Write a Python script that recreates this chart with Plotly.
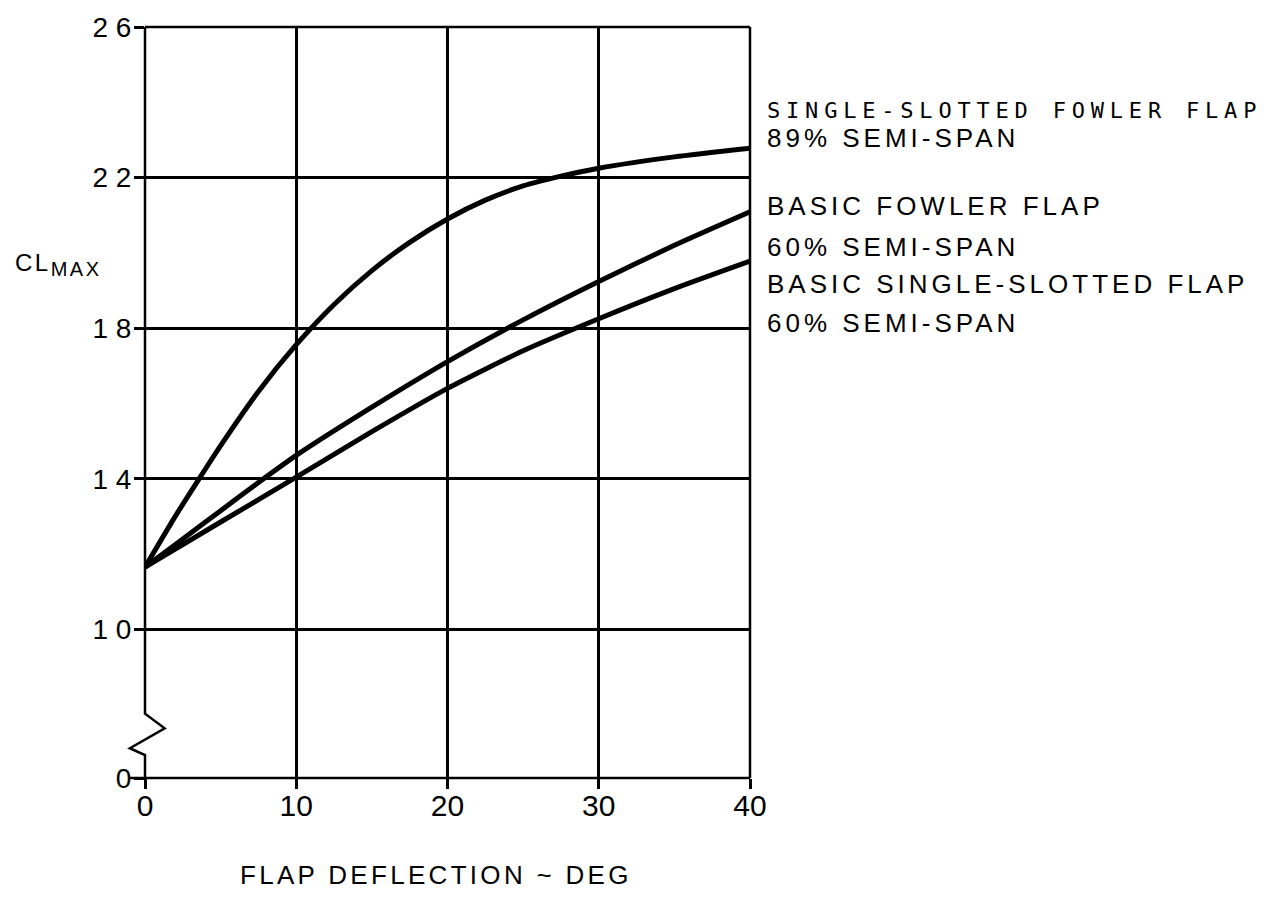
import plotly.graph_objects as go

# Flap deflection (deg) and maximum lift coefficient for each flap configuration
fowler89_deg = [0, 2, 3.5, 5, 7.5, 10, 12.5, 15, 17.5, 20, 22.5, 25, 27.5, 30, 35, 40]
fowler89_cl = [1.165, 1.30, 1.395, 1.488, 1.632, 1.756, 1.863, 1.953, 2.028, 2.09,
               2.14, 2.178, 2.204, 2.225, 2.255, 2.278]

fowler60_deg = [0, 2.5, 5, 7.5, 10, 15, 20, 25, 30, 35, 40]
fowler60_cl = [1.165, 1.24, 1.315, 1.39, 1.462, 1.59, 1.711, 1.822, 1.924, 2.02, 2.109]

slotted60_deg = [0, 5, 10, 15, 20, 25, 30, 35, 40]
slotted60_cl = [1.165, 1.285, 1.404, 1.525, 1.64, 1.74, 1.825, 1.905, 1.978]

# Axis ticks; the lowest tick stands for zero below a broken axis
x_ticks = [0, 10, 20, 30, 40]
y_ticks = [0.605, 1.0, 1.4, 1.8, 2.2, 2.6]
y_tick_text = ["0", "1 0", "1 4", "1 8", "2 2", "2 6"]

X_RANGE = [0, 40]
Y_RANGE = [0.605, 2.6]

# Zig-zag break drawn on the left axis (data units)
break_x = [0, 1.3, -1.0, 0]
break_y = [0.776, 0.737, 0.684, 0.666]


def xd(v):
    return (v - X_RANGE[0]) / (X_RANGE[1] - X_RANGE[0])


def yd(v):
    return (v - Y_RANGE[0]) / (Y_RANGE[1] - Y_RANGE[0])


LINE = dict(color="black", width=5, shape="spline", smoothing=0.6)

fig = go.Figure()
for xs, ys, name in [
    (fowler89_deg, fowler89_cl, "Single-slotted Fowler flap, 89% semi-span"),
    (fowler60_deg, fowler60_cl, "Basic Fowler flap, 60% semi-span"),
    (slotted60_deg, slotted60_cl, "Basic single-slotted flap, 60% semi-span"),
]:
    fig.add_trace(go.Scatter(x=xs, y=ys, mode="lines", line=LINE, name=name,
                             showlegend=False, hoverinfo="skip"))

# Frame: top, right, bottom, and the left axis with its break
frame_style = dict(color="black", width=2.5)
left_pts = [(xd(0), yd(Y_RANGE[1]))] + [(xd(a), yd(b)) for a, b in zip(break_x, break_y)] \
    + [(xd(0), yd(Y_RANGE[0]))]
left_path = "M " + " L ".join(f"{a:.5f},{b:.5f}" for a, b in left_pts)

shapes = [
    dict(type="path", path=left_path, xref="x domain", yref="y domain",
         line=frame_style, layer="above"),
    dict(type="line", x0=0, x1=1, y0=1, y1=1, xref="x domain", yref="y domain",
         line=frame_style, layer="above"),
    dict(type="line", x0=1, x1=1, y0=0, y1=1, xref="x domain", yref="y domain",
         line=frame_style, layer="above"),
    dict(type="line", x0=-0.025, x1=1, y0=0, y1=0, xref="x domain", yref="y domain",
         line=frame_style, layer="above"),
]

SANS = "Liberation Sans, Arial, sans-serif"
MONO = "DejaVu Sans Mono, monospace"


def spaced(text, px):
    return f"<span style='letter-spacing:{px}px'>{text}</span>"


annotations = [
    dict(text=spaced("SINGLE-SLOTTED FOWLER FLAP", 5.8), x=1.0248, y=0.889,
         font=dict(family=MONO, size=22, color="black")),
    dict(text=spaced("89% SEMI-SPAN", 4.0), x=1.0248, y=0.852,
         font=dict(family=SANS, size=26, color="black")),
    dict(text=spaced("BASIC FOWLER FLAP", 4.0), x=1.0248, y=0.762,
         font=dict(family=SANS, size=26, color="black")),
    dict(text=spaced("60% SEMI-SPAN", 4.0), x=1.0248, y=0.7072,
         font=dict(family=SANS, size=26, color="black")),
    dict(text=spaced("BASIC SINGLE-SLOTTED FLAP", 4.0), x=1.0248, y=0.658,
         font=dict(family=SANS, size=26, color="black")),
    dict(text=spaced("60% SEMI-SPAN", 4.0), x=1.0248, y=0.6063,
         font=dict(family=SANS, size=26, color="black")),
    dict(text=spaced("CL<sub><span style='font-size:20px'>MAX</span></sub>", 2.5),
         x=-0.218, y=0.684, font=dict(family=SANS, size=24, color="black")),
]
for a in annotations:
    a.update(xref="paper", yref="paper", xanchor="left", yanchor="middle",
             showarrow=False, align="left")

annotations.append(dict(
    text=spaced("FLAP DEFLECTION ~ DEG", 3.3), x=0.481, y=-0.129,
    xref="paper", yref="paper", xanchor="center", yanchor="middle",
    showarrow=False, font=dict(family=SANS, size=26, color="black")))

fig.update_layout(
    width=1270, height=898,
    margin=dict(l=145, r=520, t=25, b=120, pad=0),
    paper_bgcolor="white", plot_bgcolor="white",
    showlegend=False,
    shapes=shapes,
    annotations=annotations,
    xaxis=dict(range=X_RANGE, tickvals=x_ticks, ticktext=[str(v) for v in x_ticks],
               showgrid=True, gridcolor="black", gridwidth=2.5, zeroline=False,
               showline=False, ticks="outside", ticklen=10, tickwidth=2.5,
               tickcolor="black", ticklabelstandoff=-9,
               tickfont=dict(family=SANS, size=30, color="black")),
    yaxis=dict(range=Y_RANGE, tickvals=y_ticks, ticktext=y_tick_text,
               showgrid=True, gridcolor="black", gridwidth=2.5, zeroline=False,
               showline=False, ticks="outside", ticklen=10, tickwidth=2.5,
               tickcolor="black", ticklabelstandoff=-3,
               tickfont=dict(family=SANS, size=28, color="black")),
)

fig.write_html("out.html")
